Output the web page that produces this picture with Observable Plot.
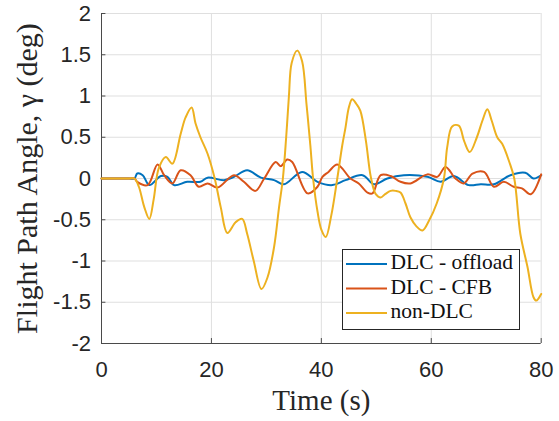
<!DOCTYPE html>
<html>
<head>
<meta charset="utf-8">
<script src="https://cdn.jsdelivr.net/npm/d3@7"></script>
<script src="https://cdn.jsdelivr.net/npm/@observablehq/plot@0.6"></script>
<style>
  html, body { margin: 0; padding: 0; background: white; }
  #wrap { position: relative; width: 559px; height: 421px; }
  #legend { position: absolute; left: 0; top: 0; }
</style>
</head>
<body>
<div id="wrap"></div>
<script>
const xTicks = [0, 20, 40, 60, 80];
const yTicks = [-2, -1.5, -1, -0.5, 0, 0.5, 1, 1.5, 2];
const yTickLabels = ["-2", "-1.5", "-1", "-0.5", "0", "0.5", "1", "1.5", "2"];
const seriesNames = ["DLC - offload", "DLC - CFB", "non-DLC"];
const seriesColors = ["#0072BD", "#D95319", "#EDB120"];

const tOffload = [0, 5, 6, 6.5, 7.5, 8.7, 10.8, 12, 13.2, 15.6, 18, 19.3, 22.3, 24.1, 26.5, 29, 31.4, 33.2, 36.5, 39.3, 42, 44.4, 47.5, 49.6, 52, 55, 59.3, 61.7, 64.1, 66.8, 69, 71.4, 74.4, 77.1, 78.6, 80];
const vOffload = [0, 0, 0, 0.06, 0.04, -0.08, 0.03, 0.02, -0.08, -0.04, -0.04, 0.01, -0.02, 0.02, 0.1, 0.01, -0.02, -0.07, 0.08, -0.04, -0.08, -0.02, 0.04, -0.07, 0, 0.04, 0.02, -0.04, 0.03, -0.08, -0.07, -0.07, 0.04, 0.07, 0, 0.04];

const tCFB = [0, 5, 6, 6.5, 8.4, 10.2, 11.4, 12.9, 14.4, 16.2, 17.7, 19.3, 21.1, 24.1, 25.9, 28, 29.6, 31.7, 32.6, 33.8, 34.7, 37.5, 39.3, 40.2, 41.3, 42.9, 45.3, 46.8, 48.4, 49.3, 50.8, 52.6, 54.4, 56.2, 59.3, 61.1, 62.6, 64.4, 65.9, 67.5, 69.6, 71.4, 73.2, 75, 76.5, 78.1, 80];
const vCFB = [0, 0, 0, -0.04, -0.08, 0.17, 0.04, -0.06, 0.1, 0.04, -0.1, -0.06, -0.11, 0.04, -0.04, -0.15, 0, 0.2, 0.15, 0.23, 0.2, -0.18, -0.1, 0.02, 0.08, 0.17, 0, -0.06, -0.17, -0.18, 0.04, 0.03, -0.04, -0.06, 0.05, 0.02, 0.14, 0, -0.06, 0.06, 0.08, -0.1, -0.04, -0.1, -0.12, -0.19, 0.05];

const tNonDLC = [0, 5, 6, 6.8, 7.8, 8.7, 9.5, 10.4, 11.7, 12.9, 14.4, 15.3, 16.4, 17.1, 18.0, 19.3, 20.6, 21.7, 22.9, 24.4, 25.6, 26.5, 27.7, 29.1, 30.2, 31.4, 32.3, 33.0, 33.6, 34.1, 34.6, 35.6, 36.5, 37.3, 38.0, 38.5, 39.3, 40.0, 40.8, 41.8, 42.9, 43.8, 44.4, 45.0, 45.6, 46.4, 47.1, 48.1, 49.0, 49.9, 50.8, 51.6, 52.6, 53.5, 54.4, 55.3, 56.2, 57.3, 58.4, 59.6, 61.0, 62.3, 62.9, 63.8, 65.0, 66.0, 67.0, 68.3, 69.3, 70.2, 71.0, 72.0, 72.9, 74.2, 75.1, 76.2, 77.5, 78.6, 79.1, 80];
const vNonDLC = [0, 0, 0, -0.1, -0.35, -0.49, -0.25, 0.12, 0.26, 0.18, 0.54, 0.74, 0.86, 0.67, 0.5, 0.3, 0, -0.35, -0.66, -0.53, -0.49, -0.67, -1.0, -1.34, -1.2, -0.83, -0.35, 0, 0.5, 1.0, 1.4, 1.55, 1.42, 0.9, 0.4, 0, -0.4, -0.62, -0.71, -0.45, 0, 0.4, 0.62, 0.86, 0.96, 0.9, 0.82, 0.46, 0.02, -0.19, -0.23, -0.19, -0.15, -0.15, -0.17, -0.3, -0.47, -0.58, -0.63, -0.51, -0.3, 0, 0.38, 0.63, 0.64, 0.45, 0.32, 0.5, 0.7, 0.84, 0.7, 0.5, 0.42, 0.2, 0, -0.67, -1.07, -1.44, -1.48, -1.40];

const seriesT = [tOffload, tCFB, tNonDLC];
const seriesV = [vOffload, vCFB, vNonDLC];
const data = [];
seriesNames.forEach((name, i) => {
  seriesT[i].forEach((t, j) => data.push({series: name, t, v: seriesV[i][j]}));
});

const axisColor = "#4a4a4a";
const gridColor = "#dfdfdf";

const chart = Plot.plot({
  width: 559,
  height: 421,
  marginLeft: 101,
  marginRight: 18.3,
  marginTop: 13,
  marginBottom: 78,
  x: {domain: [0, 80]},
  y: {domain: [-2, 2]},
  color: {domain: seriesNames, range: seriesColors},
  style: {fontFamily: "Liberation Sans, Arial, sans-serif", fontSize: "22px", background: "white", color: "#262626"},
  marks: [
    Plot.gridX(xTicks.slice(1), {stroke: gridColor, strokeOpacity: 1}),
    Plot.gridY(yTicks.slice(1), {stroke: gridColor, strokeOpacity: 1}),
    Plot.axisX({ticks: xTicks, tickSize: 0, tickPadding: 18, label: null, fontSize: 22, fill: "#262626"}),
    Plot.axisY({ticks: yTicks, tickSize: 0, tickPadding: 10.5, label: null, fontSize: 22, fill: "#262626",
      tickFormat: (d) => yTickLabels[yTicks.indexOf(d)]}),
    Plot.ruleY(yTicks, {x1: 0, x2: 0.8, stroke: axisColor}),
    Plot.ruleX(xTicks, {y1: -2, y2: -1.94, stroke: axisColor}),
    Plot.ruleX([0], {stroke: axisColor}),
    Plot.ruleY([-2], {stroke: axisColor}),
    Plot.line(data, {x: "t", y: "v", z: "series", stroke: "series", strokeWidth: 2, curve: "catmull-rom"}),
    Plot.text(["Time (s)"], {frameAnchor: "bottom", dy: 57, lineAnchor: "middle", fontFamily: "Liberation Serif, serif", fontSize: 29, fill: "#262626"}),
    Plot.text(["Flight Path Angle, γ (deg)"], {frameAnchor: "left", textAnchor: "middle", rotate: -90, dx: -74, lineAnchor: "middle", fontFamily: "Liberation Serif, serif", fontSize: 30, fill: "#262626"})
  ]
});

const wrap = document.getElementById("wrap");
wrap.appendChild(chart);

// Legend overlay
const lg = d3.select(wrap).append("svg")
  .attr("id", "legend")
  .attr("width", 559).attr("height", 421)
  .style("pointer-events", "none");
const bx = 342, by = 249, bw = 177, bh = 80;
lg.append("rect").attr("x", bx + 0.5).attr("y", by + 0.5).attr("width", bw).attr("height", bh)
  .attr("fill", "white").attr("stroke", "#262626").attr("stroke-width", 1);
const rowY = [264, 288.5, 313];
seriesNames.forEach((name, i) => {
  lg.append("line").attr("x1", 346).attr("x2", 387).attr("y1", rowY[i]).attr("y2", rowY[i])
    .attr("stroke", seriesColors[i]).attr("stroke-width", 2);
  lg.append("text").attr("x", 390.5).attr("y", rowY[i] + 5)
    .attr("font-family", "Liberation Serif, serif").attr("font-size", 21.5).attr("fill", "#111")
    .text(name);
});
</script>
</body>
</html>
